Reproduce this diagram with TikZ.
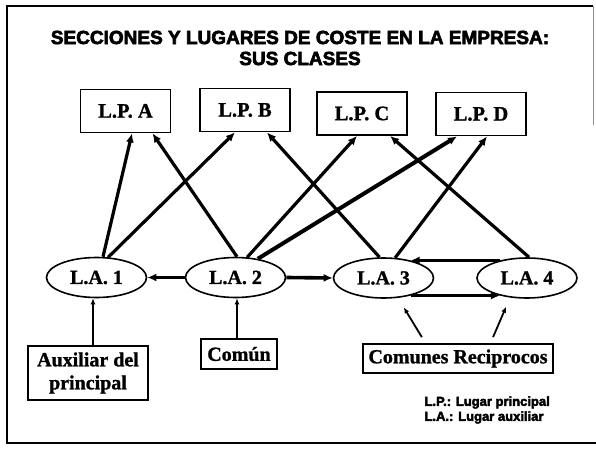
\documentclass[tikz,border=0pt]{standalone}
\usepackage{fontspec}
\setmainfont{Liberation Serif}[BoldFeatures={FakeBold=1.2}]
\setsansfont{Liberation Sans}
\newfontfamily\heavysans{Liberation Sans}[FakeBold=3.2]
\usetikzlibrary{arrows.meta,shapes.geometric,calc}

\begin{document}
\begin{tikzpicture}[
  x=1pt, y=-1pt,
  >={Latex[length=9pt,width=8pt]},
  lpbox/.style={
    draw,
    line width=1.8pt,
    minimum width=90pt,
    minimum height=43pt,
    inner sep=0pt,
    font=\fontsize{20.5}{22}\selectfont\bfseries
  },
  laoval/.style={
    draw,
    ellipse,
    line width=1.6pt,
    minimum width=100pt,
    minimum height=40pt,
    inner sep=0pt,
    font=\fontsize{20}{22}\selectfont\bfseries
  },
  srcbox/.style={
    draw,
    line width=1.8pt,
    inner sep=3pt,
    align=center,
    font=\fontsize{20}{23}\selectfont\bfseries
  },
  uplink/.style={->, line width=3.2pt},
  sidelink/.style={->, line width=3.6pt},
  feed/.style={-{Latex[length=6pt,width=5pt]}, line width=1.8pt}
]
  \useasboundingbox (0,0) rectangle (596,449);

  % Page frame
  \draw[line width=2pt] (593,6) -- (7,6) -- (7,443) -- (596,443);
  \draw[line width=1pt, black!45] (593,6) -- (593,125);

  % Title
  \node[font=\heavysans\fontsize{19}{21}\selectfont\bfseries, align=center] (title) at (300,48) {
    SECCIONES Y LUGARES DE COSTE EN LA EMPRESA:\\
    SUS CLASES
  };

  % Lugares principales
  \node[lpbox] (lpA) at (125.5,111) {L.P. A};
  \node[lpbox] (lpB) at (245,110) {L.P. B};
  \node[lpbox] (lpC) at (362,113.5) {L.P. C};
  \node[lpbox] (lpD) at (481,114) {L.P. D};

  % Lugares auxiliares
  \node[laoval] (la1) at (96.5,277.5) {L.A. 1};
  \node[laoval] (la2) at (235.5,277.5) {L.A. 2};
  \node[laoval] (la3) at (383.5,278) {L.A. 3};
  \node[laoval] (la4) at (527,278) {L.A. 4};

  % Secciones de origen
  \node[srcbox, minimum width=120pt, minimum height=54pt] (aux) at (88,373) {Auxiliar del\\principal};
  \node[srcbox, minimum width=76pt, minimum height=30pt] (comun) at (239,354) {Común};
  \node[srcbox, minimum width=190pt, minimum height=29pt] (recip) at (458,358.5) {Comunes Reciprocos};

  % Legend
  \node[anchor=west, align=left, font=\heavysans\fontsize{13}{15}\selectfont\bfseries] (legend) at (421,410) {
    L.P.: Lugar principal\\
    L.A.: Lugar auxiliar
  };

  % Auxiliares hacia principales
  \draw[uplink] ([xshift=6.5pt]la1.north) -- ([xshift=6.5pt]lpA.south);
  \draw[uplink] (la1.60) -- ([xshift=-10pt]lpB.south);
  \draw[uplink] ([xshift=1.5pt]la2.north) -- ([xshift=27pt]lpA.south);
  \draw[uplink] (la2.60) -- ([xshift=-5pt]lpC.south);
  \draw[uplink, line width=4pt] (la2.40) -- ([xshift=-24pt]lpD.south);
  \draw[uplink] ([xshift=-4pt]la3.north) -- ([xshift=22pt]lpB.south);
  \draw[uplink] (la3.60) -- ([xshift=6pt]lpD.south);
  \draw[uplink] ([xshift=2pt]la4.north) -- ([xshift=28pt]lpC.south);

  % Entre auxiliares
  \draw[sidelink] (la2.west) -- (la1.east);
  \draw[sidelink] (la2.east) -- (la3.west);
  \draw[sidelink] (la4.147) -- (la3.33);
  \draw[sidelink] (la3.-33) -- (la4.-147);

  % Secciones hacia auxiliares
  \draw[feed] ([xshift=5pt]aux.north) -- ([xshift=-3.5pt]la1.south);
  \draw[feed] ([xshift=-2pt]comun.north) -- ([xshift=1.5pt]la2.south);
  \draw[feed, shorten <=7pt, shorten >=10pt] ([xshift=-32.5pt]recip.north) -- ([xshift=15pt]la3.south);
  \draw[feed, shorten <=6.5pt, shorten >=8.5pt] ([xshift=32.5pt]recip.north) -- ([xshift=-17.5pt]la4.south);

\end{tikzpicture}
\end{document}
